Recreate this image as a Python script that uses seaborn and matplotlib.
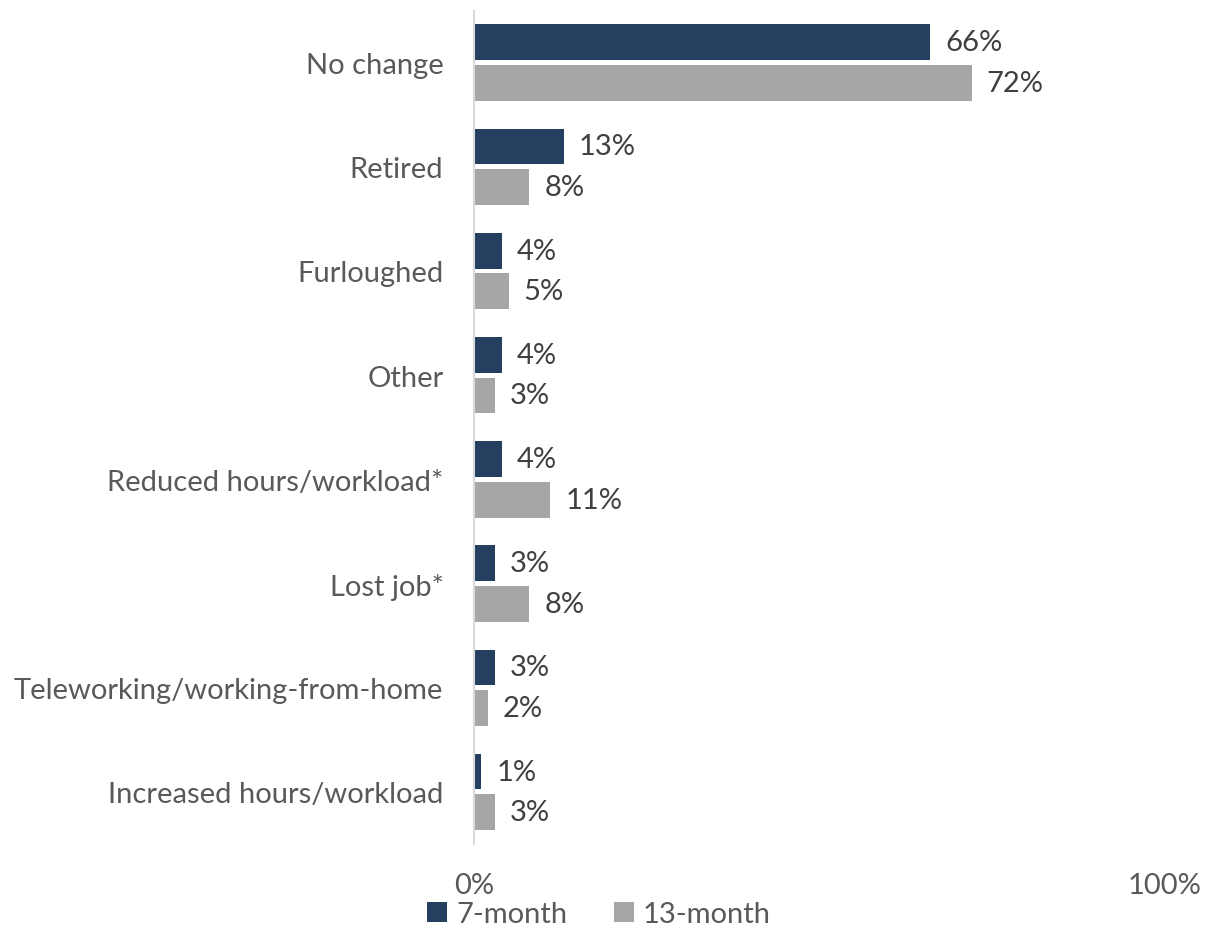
import matplotlib
matplotlib.use("Agg")
import matplotlib.pyplot as plt
import seaborn as sns
import pandas as pd

categories = ["No change", "Retired", "Furloughed", "Other",
              "Reduced hours/workload*", "Lost job*",
              "Teleworking/working-from-home", "Increased hours/workload"]
seven_month = [66, 13, 4, 4, 4, 3, 3, 1]
thirteen_month = [72, 8, 5, 3, 11, 8, 2, 3]
series_names = ["7-month", "13-month"]
colors = ["#243F60", "#A6A6A6"]
x_ticks = [0, 100]
x_tick_labels = ["0%", "100%"]

df = pd.DataFrame({
    "category": categories * 2,
    "value": seven_month + thirteen_month,
    "wave": [series_names[0]] * len(categories) + [series_names[1]] * len(categories),
})

sns.set_theme(style="white")
plt.rcParams["font.family"] = ["Lato", "DejaVu Sans"]
text_color = "#595959"
fs = 21

fig = plt.figure(figsize=(12.10, 9.29), dpi=100)
ax = fig.add_axes([474 / 1210, 1 - 845 / 929, (1165 - 474) / 1210, (845 - 11.5) / 929])

sns.barplot(data=df, y="category", x="value", hue="wave", order=categories,
            hue_order=series_names, palette=colors, saturation=1, orient="h",
            width=0.78, gap=0.12, linewidth=0, ax=ax, legend=True)

for container in ax.containers:
    ax.bar_label(container, labels=[f"{v:.0f}%" for v in container.datavalues],
                 padding=11, fontsize=fs, color="#404040")

ax.set_xlim(0, 100)
ax.set_xticks(x_ticks)
ax.set_xticklabels(x_tick_labels)
ax.set_xlabel("")
ax.set_ylabel("")
ax.tick_params(axis="x", length=0, pad=20, labelsize=fs, labelcolor=text_color)
ax.tick_params(axis="y", length=0, pad=22, labelsize=fs, labelcolor=text_color)

for side in ["top", "right", "bottom"]:
    ax.spines[side].set_visible(False)
ax.spines["left"].set_color("#D9D9D9")
ax.spines["left"].set_linewidth(1.5)

handles, labels = ax.get_legend_handles_labels()
ax.legend_.remove()
fig.legend(handles, labels, loc="center", bbox_to_anchor=(0.495, 0.015), ncol=2,
           frameon=False, fontsize=fs, labelcolor=text_color, handlelength=0.7,
           handleheight=0.7, handletextpad=0.3, columnspacing=1.6,
           borderpad=0.0)

fig.savefig("out.png", dpi=100, facecolor="white")
